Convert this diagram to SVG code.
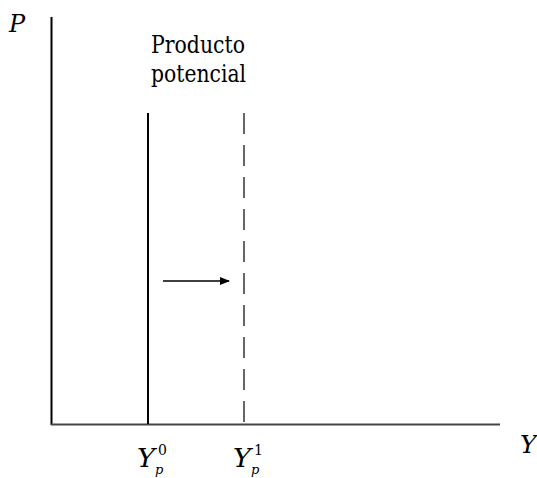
<svg xmlns="http://www.w3.org/2000/svg" width="537" height="478" viewBox="0 0 537 478">
<style>
.i{font-style:italic}
.ax{stroke:#000;stroke-width:2;fill:none}
</style>
<defs>
<marker id="ah" markerWidth="10" markerHeight="8" refX="9" refY="4" orient="auto" markerUnits="userSpaceOnUse">
<path d="M0,0 L10,4 L0,8 Z" fill="#000"/>
</marker>
</defs>
<g id="axes">
<line x1="51.5" y1="17" x2="51.5" y2="425" class="ax"/>
<line x1="51" y1="424.5" x2="500" y2="424.5" stroke="#444" stroke-width="2"/>
</g>
<g id="connectors">
<line x1="163" y1="281" x2="229" y2="281" stroke="#000" stroke-width="1.5" marker-end="url(#ah)"/>
</g>
<g id="y0-line">
<line x1="148" y1="113" x2="148" y2="424" class="ax"/>
</g>
<g id="y1-line">
<line x1="244" y1="113" x2="244" y2="424" stroke="#666" stroke-width="2" stroke-dasharray="21 11"/>
</g>
<g id="labels" font-family="DejaVu Serif, serif" fill="#000">
<text class="i" x="9" y="32" font-size="24">P</text>
<text class="i" x="520" y="453" font-size="25">Y</text>
<text x="151" y="53" font-size="25" textLength="94" lengthAdjust="spacingAndGlyphs">Producto</text>
<text x="151" y="82" font-size="25" textLength="95" lengthAdjust="spacingAndGlyphs">potencial</text>
<g id="yp0">
<text class="i" x="137" y="467" font-size="26" textLength="18" lengthAdjust="spacingAndGlyphs">Y</text>
<text x="158" y="455" font-size="14">0</text>
<text class="i" x="155" y="474" font-size="13">p</text>
</g>
<g id="yp1">
<text class="i" x="233" y="467" font-size="26" textLength="18" lengthAdjust="spacingAndGlyphs">Y</text>
<text x="254" y="455" font-size="14">1</text>
<text class="i" x="251" y="474" font-size="13">p</text>
</g>
</g>
</svg>
